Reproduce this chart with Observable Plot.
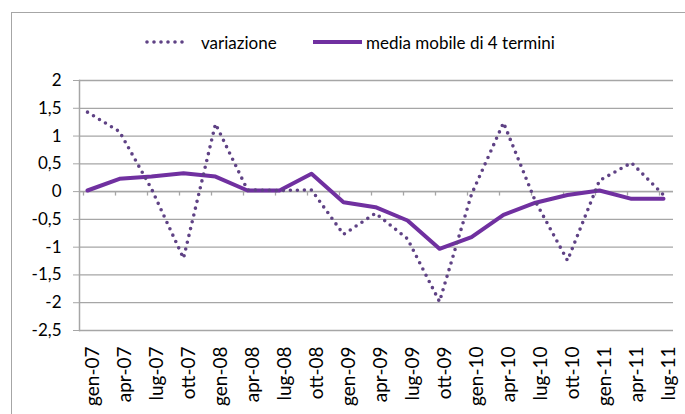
<!DOCTYPE html>
<html>
<head>
<meta charset="utf-8">
<script src="https://cdn.jsdelivr.net/npm/d3@7"></script>
<script src="https://cdn.jsdelivr.net/npm/@observablehq/plot@0.6"></script>
<style>
  html, body { margin: 0; padding: 0; background: #fff; }
  #wrap { position: relative; width: 685px; height: 414px; overflow: hidden; font-family: Lato, "Liberation Sans", sans-serif; }
  #frame { position: absolute; left: 11px; top: 12px; width: 700px; height: 430px; border: 1.5px solid #a6a6a6; box-sizing: border-box; }
  #chart { position: absolute; left: 0; top: 0; }
  #legend { position: absolute; left: 0; top: 30px; width: 685px; height: 24px; font-size: 17px; color: #000; }
  .item { position: absolute; top: 0; display: flex; align-items: center; height: 24px; }
  .item svg { display: block; }
</style>
</head>
<body>
<div id="wrap">
  <div id="frame"></div>
  <div id="chart"></div>
  <div id="legend"></div>
</div>
<script>
const categories = ["gen-07","apr-07","lug-07","ott-07","gen-08","apr-08","lug-08","ott-08","gen-09","apr-09","lug-09","ott-09","gen-10","apr-10","lug-10","ott-10","gen-11","apr-11","lug-11"];
const variazione = [1.43, 1.08, 0.05, -1.2, 1.22, 0.03, 0.02, 0.03, -0.77, -0.39, -0.85, -1.98, -0.05, 1.24, -0.18, -1.24, 0.2, 0.52, -0.06];
const mediaMobile = [0.02, 0.23, 0.27, 0.33, 0.27, 0.02, 0.02, 0.32, -0.19, -0.28, -0.52, -1.03, -0.82, -0.42, -0.2, -0.06, 0.02, -0.13, -0.13];
const yTicks = [-2.5, -2, -1.5, -1, -0.5, 0, 0.5, 1, 1.5, 2];
const seriesNames = ["variazione", "media mobile di 4 termini"];
const colDot = "#5f4285";
const colSolid = "#7030a0";

const data = categories.map((c, i) => ({c, v: variazione[i], m: mediaMobile[i]}));
const grid = "#a6a6a6";

const chart = Plot.plot({
  width: 685,
  height: 414,
  marginTop: 80,
  marginBottom: 84,
  marginLeft: 79,
  marginRight: 12,
  style: {fontFamily: "Lato, 'Liberation Sans', sans-serif", background: "transparent", color: "#000"},
  x: {type: "point", domain: categories, padding: 0, insetLeft: 4, insetRight: 6, label: null},
  y: {domain: [-2.5, 2], label: null},
  marks: [
    Plot.gridY(yTicks, {stroke: grid, strokeOpacity: 1, strokeWidth: 1.3}),
    Plot.axisY(yTicks, {tickSize: 6, tickPadding: 12, stroke: grid, strokeOpacity: 1, fill: "#000", fontSize: 17, label: null,
      tickFormat: d => String(d).replace(".", ",")}),
    Plot.frame({anchor: "left", stroke: grid, strokeWidth: 1.5}),
    Plot.ruleY([0], {stroke: grid, strokeWidth: 1.5}),
    Plot.ruleX(categories, {x: d => d, y1: 0, y2: -0.08, dx: -4, stroke: grid, strokeWidth: 1.3}),
    Plot.axisX(categories, {anchor: "bottom", tickSize: 0, tickRotate: -90, tickPadding: 16, dx: 5, fontSize: 19, fill: "#000", label: null}),
    Plot.line(data, {x: "c", y: "m", stroke: colSolid, strokeWidth: 4}),
    Plot.line(data, {x: "c", y: "v", stroke: colDot, strokeWidth: 3.6, strokeDasharray: "0 7", strokeLinecap: "round"})
  ]
});
document.getElementById("chart").appendChild(chart);

const legend = document.getElementById("legend");
const items = [
  {name: seriesNames[0], left: 145, w: 46, gap: 10, dash: "0 7", color: colDot, sw: 3.6},
  {name: seriesNames[1], left: 311, w: 53, gap: 2, dash: null, color: colSolid, sw: 4}
];
for (const it of items) {
  const div = document.createElement("div");
  div.className = "item";
  div.style.left = it.left + "px";
  const svg = d3.create("svg").attr("width", it.w).attr("height", 10);
  const ln = svg.append("line").attr("x1", 2).attr("x2", it.w - 2).attr("y1", 5).attr("y2", 5)
    .attr("stroke", it.color).attr("stroke-width", it.sw).attr("stroke-linecap", it.dash ? "round" : "butt");
  if (it.dash) ln.attr("stroke-dasharray", it.dash);
  div.appendChild(svg.node());
  const span = document.createElement("span");
  span.textContent = it.name;
  span.style.marginLeft = it.gap + "px";
  div.appendChild(span);
  legend.appendChild(div);
}
</script>
</body>
</html>
